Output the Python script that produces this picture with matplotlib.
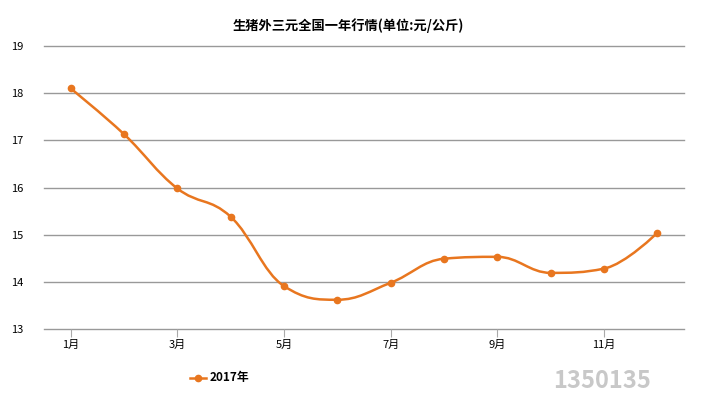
import numpy as np
import matplotlib
matplotlib.use("Agg")
import matplotlib.pyplot as plt
from matplotlib.path import Path
from matplotlib.patches import PathPatch

plt.rcParams['font.family'] = ['Noto Sans CJK SC', 'DejaVu Sans']

# Data
months = ["1月", "2月", "3月", "4月", "5月", "6月", "7月", "8月", "9月", "10月", "11月", "12月"]
prices = [18.10, 17.13, 15.98, 15.38, 13.91, 13.62, 13.98, 14.49, 14.53, 14.19, 14.28, 15.04]
series_name = "2017年"
title = "生猪外三元全国一年行情(单位:元/公斤)"
y_ticks = [13, 14, 15, 16, 17, 18, 19]

color = "#E8761F"


def spline_path(xs, ys, smoothing=1.5):
    # smooth curve through points (same style as the original chart)
    n = len(xs)
    denom = smoothing + 1
    right = [(xs[i], ys[i]) for i in range(n)]
    left = [(xs[i], ys[i]) for i in range(n)]
    for i in range(1, n - 1):
        px, py = xs[i], ys[i]
        lx, ly = xs[i - 1], ys[i - 1]
        nx, ny = xs[i + 1], ys[i + 1]
        lcx = (smoothing * px + lx) / denom
        lcy = (smoothing * py + ly) / denom
        rcx = (smoothing * px + nx) / denom
        rcy = (smoothing * py + ny) / denom
        corr = ((rcy - lcy) * (rcx - px)) / (rcx - lcx) + py - rcy
        lcy += corr
        rcy += corr
        if lcy > ly and lcy > py:
            lcy = max(ly, py)
            rcy = 2 * py - lcy
        elif lcy < ly and lcy < py:
            lcy = min(ly, py)
            rcy = 2 * py - lcy
        if rcy > ny and rcy > py:
            rcy = max(ny, py)
            lcy = 2 * py - rcy
        elif rcy < ny and rcy < py:
            rcy = min(ny, py)
            lcy = 2 * py - rcy
        left[i] = (lcx, lcy)
        right[i] = (rcx, rcy)
    verts = [(xs[0], ys[0])]
    codes = [Path.MOVETO]
    for i in range(1, n):
        verts += [right[i - 1], left[i], (xs[i], ys[i])]
        codes += [Path.CURVE4] * 3
    return Path(verts, codes)


fig = plt.figure(figsize=(7.01, 3.95), dpi=100)
ax = fig.add_axes([44 / 701, 66 / 395, 640 / 701, 283 / 395])

x = np.arange(len(months))
ax.add_patch(PathPatch(spline_path(list(x), prices), facecolor="none",
                       edgecolor=color, lw=1.8, zorder=3))
ax.plot(x, prices, "o", color=color, ms=4.5, zorder=4)

# horizontal grid lines
for v in y_ticks:
    ax.axhline(v, color="#999999", lw=1, clip_on=False, zorder=1)

ax.set_xlim(-0.5, len(months) - 0.5)
ax.set_ylim(13, 19)
ax.set_yticks(y_ticks)
ax.set_yticklabels([str(v) for v in y_ticks], fontsize=8)
ax.set_xticks(x[::2])
ax.set_xticklabels(months[::2], fontsize=8)
ax.tick_params(axis="x", length=6, color="#aaaaaa", pad=2)
ax.tick_params(axis="y", length=0, pad=15)
for s in ax.spines.values():
    s.set_visible(False)

fig.text(0.497, 0.934, title, ha="center", va="center", fontsize=9.5, fontweight="bold")

# legend
fig.lines.append(plt.Line2D([190 / 701, 206 / 701], [1 - 378 / 395] * 2,
                            transform=fig.transFigure, color=color, lw=1.8))
fig.lines.append(plt.Line2D([198 / 701], [1 - 378 / 395], transform=fig.transFigure,
                            color=color, marker="o", ms=4.5))
fig.text(210 / 701, 1 - 378 / 395, series_name, ha="left", va="center",
         fontsize=8.5, fontweight="bold")

# watermark
fig.text(553 / 701, 1 - 381 / 395, "1350135", ha="left", va="center",
         fontsize=17, fontweight="bold", color="#c8c8c8")

fig.savefig("out.png", dpi=100)
